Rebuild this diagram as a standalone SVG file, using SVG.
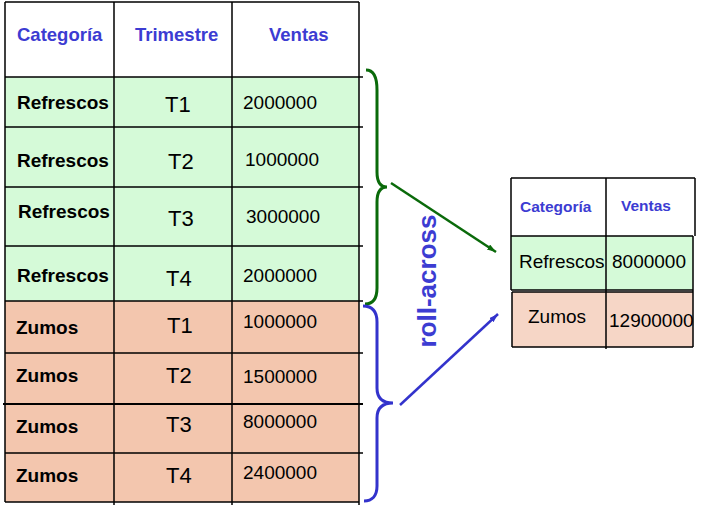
<svg xmlns="http://www.w3.org/2000/svg" width="705" height="507" viewBox="0 0 705 507">
<style>
text{font-family:"Liberation Sans",Arial,sans-serif}
.hd{font-size:18.5px;font-weight:bold;fill:#3c3cd2}
.hs{font-size:15.5px;font-weight:bold;fill:#3c3cd2}
.cat{font-size:19px;font-weight:bold;fill:#000}
.tri{font-size:22px;fill:#000}
.num{font-size:19px;fill:#000}
.sm{font-size:19px;fill:#000}
.grid{stroke:#000;stroke-width:1.5;fill:none}
.g{fill:#d5fad8}
.s{fill:#f3c6ae}
.s2{fill:#f6d6c6}
.brg{fill:none;stroke:#0a6a0a;stroke-width:3}
.brb{fill:none;stroke:#3333cc;stroke-width:3}
</style>
<defs>
<marker id="ag" markerUnits="userSpaceOnUse" markerWidth="10" markerHeight="8" refX="9" refY="3" orient="auto"><path d="M0,0 L9,3 L0,6 z" fill="#0a6a0a"/></marker>
<marker id="ab" markerUnits="userSpaceOnUse" markerWidth="10" markerHeight="8" refX="9" refY="3" orient="auto"><path d="M0,0 L9,3 L0,6 z" fill="#3333cc"/></marker>
</defs>
<rect width="705" height="507" fill="#fff"/>
<g id="tabla-detalle">
<rect class="g" x="5" y="77" width="354" height="224"/>
<rect class="s" x="5" y="301" width="354" height="201"/>
<g class="grid">
<path d="M5,2 H359 M5,77 H363 M5,127 H363 M5,187 H363 M5,246 H363 M5,301 H363 M5,353 H363 M5,453 H363 M5,502 H359"/>
<path d="M3,404 H363" stroke-width="2.2"/>
<path d="M5,2 V502 M114,2 V505 M232,2 V505 M359,2 V505"/>
</g>
<text class="hd" x="17" y="41">Categoría</text>
<text class="hd" x="135" y="41">Trimestre</text>
<text class="hd" x="269" y="41">Ventas</text>
<text class="cat" x="17" y="109">Refrescos</text>
<text class="tri" x="165" y="112">T1</text>
<text class="num" x="243" y="109">2000000</text>
<text class="cat" x="17" y="167">Refrescos</text>
<text class="tri" x="168" y="169">T2</text>
<text class="num" x="245" y="166">1000000</text>
<text class="cat" x="18" y="218">Refrescos</text>
<text class="tri" x="168" y="226">T3</text>
<text class="num" x="246" y="223">3000000</text>
<text class="cat" x="17" y="282">Refrescos</text>
<text class="tri" x="166" y="286">T4</text>
<text class="num" x="243" y="282">2000000</text>
<text class="cat" x="16" y="334">Zumos</text>
<text class="tri" x="167" y="333">T1</text>
<text class="num" x="243" y="328">1000000</text>
<text class="cat" x="16" y="382">Zumos</text>
<text class="tri" x="166" y="383">T2</text>
<text class="num" x="243" y="383">1500000</text>
<text class="cat" x="16" y="433">Zumos</text>
<text class="tri" x="166" y="432">T3</text>
<text class="num" x="243" y="428">8000000</text>
<text class="cat" x="16" y="482">Zumos</text>
<text class="tri" x="166" y="483">T4</text>
<text class="num" x="243" y="479">2400000</text>
</g>
<g id="llave-refrescos">
<path class="brg" d="M366,70 C373,70 377,76 377,90 L377,172 C377,182 380,187 387,187 C380,187 377,192 377,202 L377,288 C377,299 373,304 365,304"/>
</g>
<g id="llave-zumos">
<path class="brb" d="M363,306 C372,306 377,311 377,322 L377,388 C377,398 382,403 393,403 C382,403 377,408 377,418 L377,486 C377,496 372,501 364,501"/>
</g>
<g id="etiqueta">
<text x="436" y="281" transform="rotate(-90 436 281)" text-anchor="middle" style="font-size:26px;font-weight:bold;fill:#3c3cd2" dy="0">roll-across</text>
</g>
<g id="conectores">
<line x1="391" y1="183" x2="496" y2="252" stroke="#0a6a0a" stroke-width="2.5" marker-end="url(#ag)"/>
<line x1="400" y1="405" x2="498" y2="314" stroke="#3333cc" stroke-width="2.5" marker-end="url(#ab)"/>
</g>
<g id="tabla-resumen">
<rect class="g" x="511" y="236" width="182" height="54"/>
<rect class="s2" x="512" y="292" width="181" height="55"/>
<g class="grid">
<path d="M511,178 H695 M511,236 H693 M511,290 H693 M512,292 H693 M512,347 H693"/>
<path d="M511,178 V290 M512,292 V347 M606,178 V349 M695,178 V236 M693,236 V347"/>
</g>
<text class="hs" x="520" y="212">Categoría</text>
<text class="hs" x="621" y="211">Ventas</text>
<text class="sm" x="519" y="268">Refrescos</text>
<text class="sm" x="612" y="268">8000000</text>
<text class="sm" x="528" y="323">Zumos</text>
<text class="sm" x="609" y="327">12900000</text>
</g>
</svg>
